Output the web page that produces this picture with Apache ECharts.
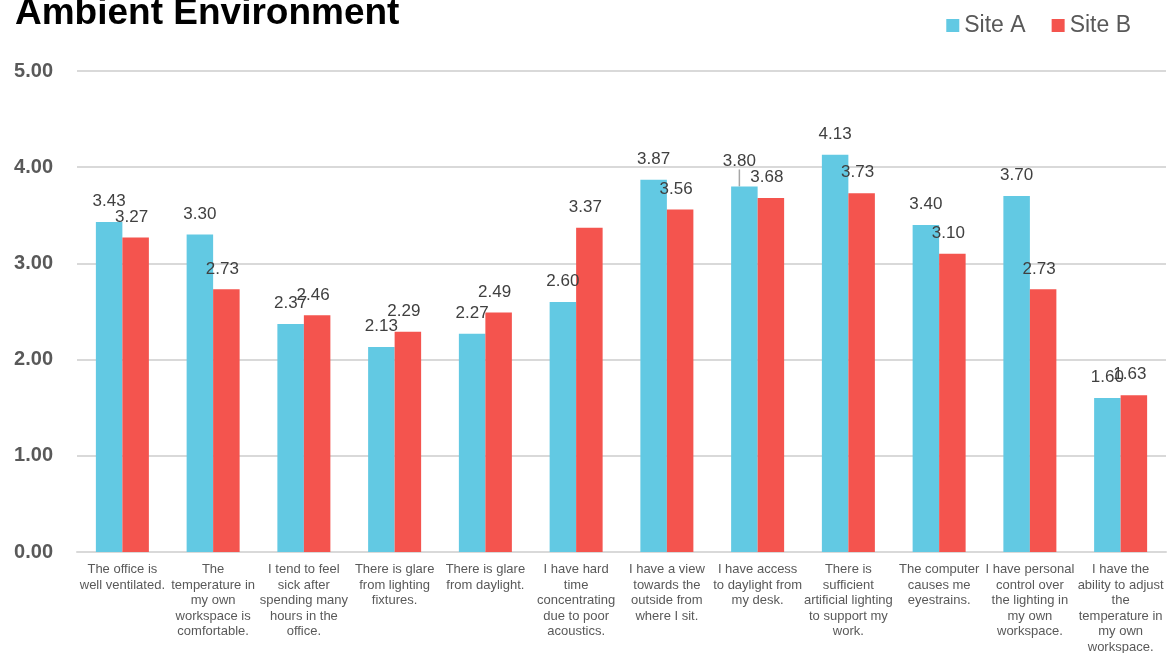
<!DOCTYPE html>
<html><head><meta charset="utf-8">
<script src="https://cdn.jsdelivr.net/npm/echarts@6/dist/echarts.min.js"></script>
<style>html,body{margin:0;padding:0;background:#fff}#c{width:1174px;height:653px}</style>
</head><body><div id="c"></div>
<script>
const categories = [
  "The office is\nwell ventilated.",
  "The\ntemperature in\nmy own\nworkspace is\ncomfortable.",
  "I tend to feel\nsick after\nspending many\nhours in the\noffice.",
  "There is glare\nfrom lighting\nfixtures.",
  "There is glare\nfrom daylight.",
  "I have hard\ntime\nconcentrating\ndue to poor\nacoustics.",
  "I have a view\ntowards the\noutside from\nwhere I sit.",
  "I have access\nto daylight from\nmy desk.",
  "There is\nsufficient\nartificial lighting\nto support my\nwork.",
  "The computer\ncauses me\neyestrains.",
  "I have personal\ncontrol over\nthe lighting in\nmy own\nworkspace.",
  "I have the\nability to adjust\nthe\ntemperature in\nmy own\nworkspace."
];
const siteA = [3.43, 3.30, 2.37, 2.13, 2.27, 2.60, 3.87, 3.80, 4.13, 3.40, 3.70, 1.60];
const siteB = [3.27, 2.73, 2.46, 2.29, 2.49, 3.37, 3.56, 3.68, 3.73, 3.10, 2.73, 1.63];
const yTicks = [0, 1, 2, 3, 4, 5];
const movedLabelA = 7; // label of Site A that Excel lifted, with a leader line

const font = "Liberation Sans, Arial, sans-serif";
const chart = echarts.init(document.getElementById('c'));
const lbl = (dx) => ({
  show: true, position: 'top', distance: 12, offset: [dx, 0],
  color: '#404040', fontSize: 17, fontFamily: font,
  formatter: p => p.value.toFixed(2)
});
chart.setOption({
  animation: false,
  title: {
    text: 'Ambient Environment', left: 10, top: -10,
    textStyle: { fontFamily: font, fontWeight: 'bold', fontSize: 37, color: '#000' }
  },
  legend: {
    right: 38, top: 9, itemWidth: 13, itemHeight: 13, itemGap: 26,
    icon: 'rect',
    textStyle: { fontFamily: font, fontSize: 23, color: '#595959' },
    data: ['Site A', 'Site B']
  },
  grid: { left: 77, right: 8, top: 71, bottom: 101, containLabel: false, outerBoundsMode: 'none' },
  xAxis: {
    type: 'category', data: categories,
    axisTick: { show: false },
    axisLine: { lineStyle: { color: '#d9d9d9', width: 2 } },
    axisLabel: {
      interval: 0, color: '#595959', fontFamily: font, fontSize: 13,
      lineHeight: 15.5, margin: 10
    }
  },
  yAxis: {
    type: 'value', min: yTicks[0], max: yTicks[yTicks.length - 1], interval: 1,
    axisLine: { show: false }, axisTick: { show: false },
    splitLine: { lineStyle: { color: '#d9d9d9', width: 2 } },
    axisLabel: {
      color: '#595959', fontFamily: font, fontSize: 20, fontWeight: 'bold', margin: 24,
      formatter: v => v.toFixed(2)
    }
  },
  series: [
    { name: 'Site A', type: 'bar', barWidth: 26.5, barGap: '0%',
      data: siteA.map((v, i) => i === movedLabelA
        ? { value: v, labelLine: { show: true, lineStyle: { color: '#a6a6a6', width: 1.5 } } }
        : v),
      labelLayout: p => p.dataIndex === movedLabelA
        ? { x: p.labelRect.x + p.labelRect.width / 2 - 3, y: p.labelRect.y + p.labelRect.height / 2 - 5, align: 'center', verticalAlign: 'middle' }
        : {},
      itemStyle: { color: '#62C9E3' }, label: lbl(-2) },
    { name: 'Site B', type: 'bar', data: siteB, barWidth: 26.5,
      itemStyle: { color: '#F4544E' }, label: lbl(-4) }
  ]
});
</script></body></html>
